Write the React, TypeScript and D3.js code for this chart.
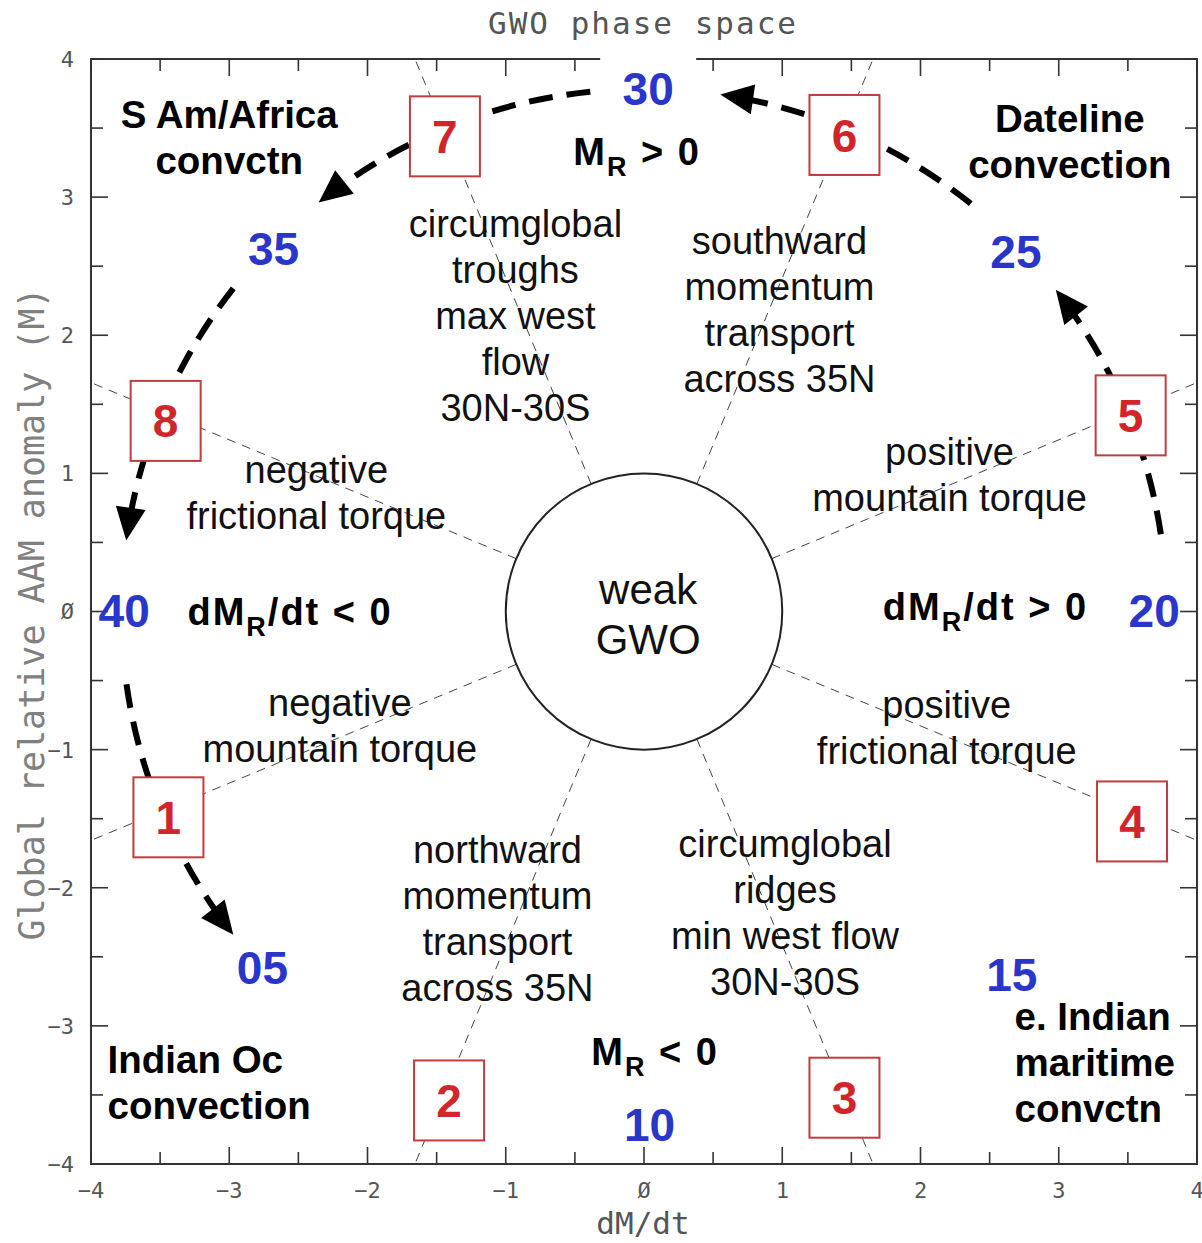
import React from 'react';
import * as d3 from 'd3';

// ---------- data ----------
const majorTicks = [-4, -3, -2, -1, 0, 1, 2, 3, 4];
const minorTicks = [-3.5, -2.5, -1.5, -0.5, 0.5, 1.5, 2.5, 3.5];
const tickText = (v: number) => (v === 0 ? 'Ø' : v < 0 ? '−' + Math.abs(v) : String(v));

const titleText = 'GWO phase space';
const xLabelText = 'dM/dt';
const yLabelText = 'Global relative AAM anomaly (M)';

const phaseNumbers = ['1', '2', '3', '4', '5', '6', '7', '8'];
const phaseX = [-3.44, -1.41, 1.45, 3.53, 3.52, 1.45, -1.44, -3.46];
const phaseY = [-1.49, -3.54, -3.52, -1.52, 1.42, 3.45, 3.44, 1.38];

const boundaryAngles = [22.5, 67.5, 112.5, 157.5, 202.5, 247.5, 292.5, 337.5];
const weakRadius = 1;

const dayLabels = ['20', '25', '30', '35', '40', '05', '10', '15'];
const dayX = [3.69, 2.69, 0.03, -2.68, -3.76, -2.76, 0.04, 2.66];
const dayY = [0.01, 2.61, 3.79, 2.63, 0.01, -2.58, -3.71, -2.63];

const arrowStart = [8.5, 51.3, 95.9, 141.8, 188];
const arrowEnd = [38, 81.6, 128.5, 172.2, 218.2];
const arrowRadius = 3.78;

const regionLines = [
  ['S Am/Africa', 'convctn'],
  ['Dateline', 'convection'],
  ['Indian Oc', 'convection'],
  ['e. Indian', 'maritime', 'convctn'],
];
const processLines = [
  ['circumglobal', 'troughs', 'max west', 'flow', '30N-30S'],
  ['southward', 'momentum', 'transport', 'across 35N'],
  ['negative', 'frictional torque'],
  ['positive', 'mountain torque'],
  ['negative', 'mountain torque'],
  ['positive', 'frictional torque'],
  ['northward', 'momentum', 'transport', 'across 35N'],
  ['circumglobal', 'ridges', 'min west flow', '30N-30S'],
];
const centerLines = ['weak', 'GWO'];

// ---------- layout (data units) ----------
const regionPos = [
  { x: -3.0, y: 3.5, anchor: 'middle' },
  { x: 3.08, y: 3.47, anchor: 'middle' },
  { x: -3.88, y: -3.34, anchor: 'start' },
  { x: 2.68, y: -3.03, anchor: 'start' },
];
const processPos = [
  { x: -0.93, y: 2.71 },
  { x: 0.98, y: 2.59 },
  { x: -2.37, y: 0.93 },
  { x: 2.21, y: 1.06 },
  { x: -2.2, y: -0.76 },
  { x: 2.19, y: -0.77 },
  { x: -1.06, y: -1.82 },
  { x: 1.02, y: -1.78 },
];

const W = 1202;
const H = 1243;
const LEFT = 91, RIGHT = 1197, TOP = 59, BOTTOM = 1164;

export default function App() {
  const x = d3.scaleLinear().domain([-4, 4]).range([LEFT, RIGHT]);
  const y = d3.scaleLinear().domain([-4, 4]).range([BOTTOM, TOP]);
  const cx = x(0), cy = y(0);
  const ux = x(1) - x(0);
  const uy = y(0) - y(1);
  const rad = (d: number) => (d * Math.PI) / 180;
  const polar = (r: number, a: number) => [x(r * Math.cos(rad(a))), y(r * Math.sin(rad(a)))];

  const font = 'Liberation Sans, Arial, sans-serif';
  const mono = 'DejaVu Sans Mono, monospace';
  const gray = '#555';

  // heavy arrows
  const R = arrowRadius * ux;
  const headL = 33, headW = 30;
  const arrows = arrowStart.map((a0, i) => {
    const a1 = arrowEnd[i];
    const a1line = a1 - (headL / R) * (180 / Math.PI) * 0.9;
    const p = d3.path();
    p.arc(cx, cy, R, -rad(a0), -rad(a1line), true);
    const t = rad(a1);
    const tip = [cx + R * Math.cos(t), cy - R * Math.sin(t)];
    const dir = [-Math.sin(t), -Math.cos(t)];
    const nrm = [Math.cos(t), -Math.sin(t)];
    const base = [tip[0] - headL * dir[0], tip[1] - headL * dir[1]];
    const b1 = [base[0] + (headW / 2) * nrm[0], base[1] + (headW / 2) * nrm[1]];
    const b2 = [base[0] - (headW / 2) * nrm[0], base[1] - (headW / 2) * nrm[1]];
    return { d: p.toString(), head: `M${tip[0]},${tip[1]}L${b1[0]},${b1[1]}L${b2[0]},${b2[1]}Z` };
  });

  const clipId = 'plotclip';
  const boldLabel = { fontFamily: font, fontWeight: 'bold' as const, fontSize: 38, fill: '#000', letterSpacing: 2 };

  return (
    <svg width={W} height={H} style={{ position: 'absolute', left: 0, top: 0, background: '#fff' }}>
      <defs>
        <clipPath id={clipId}>
          <rect x={LEFT} y={TOP} width={RIGHT - LEFT} height={BOTTOM - TOP} />
        </clipPath>
      </defs>
      <rect x={0} y={0} width={W} height={H} fill="#fff" />

      {/* title & axis labels */}
      <text x={643} y={34} textAnchor="middle" fontFamily={mono} fontSize={31} fill={gray} letterSpacing={2}>
        {titleText}
      </text>
      <text x={643} y={1234} textAnchor="middle" fontFamily={mono} fontSize={31} fill={gray}>
        {xLabelText}
      </text>
      <text
        transform={`translate(44,${614}) rotate(-90)`}
        textAnchor="middle"
        fontFamily={mono}
        fontSize={35}
        fill="#808080"
      >
        {yLabelText}
      </text>

      {/* frame */}
      <rect x={LEFT} y={TOP} width={RIGHT - LEFT} height={BOTTOM - TOP} fill="none" stroke="#333" strokeWidth={2} />
      {majorTicks.concat(minorTicks).map((v, i) => {
        const len = Number.isInteger(v) ? 17 : 12;
        return (
          <g key={'t' + i} stroke="#333" strokeWidth={1.6}>
            <line x1={x(v)} x2={x(v)} y1={BOTTOM} y2={BOTTOM - len} />
            <line x1={x(v)} x2={x(v)} y1={TOP} y2={TOP + len} />
            <line y1={y(v)} y2={y(v)} x1={LEFT} x2={LEFT + len} />
            <line y1={y(v)} y2={y(v)} x1={RIGHT} x2={RIGHT - len} />
          </g>
        );
      })}
      {majorTicks.map((v) => (
        <text key={'xl' + v} x={x(v)} y={1198} textAnchor="middle" fontFamily={mono} fontSize={22} fill={gray}>
          {tickText(v)}
        </text>
      ))}
      {majorTicks.map((v) => (
        <text key={'yl' + v} x={74} y={y(v)} dy="0.36em" textAnchor="end" fontFamily={mono} fontSize={22} fill={gray}>
          {tickText(v)}
        </text>
      ))}

      {/* radial boundary lines */}
      <g clipPath={`url(#${clipId})`}>
        {boundaryAngles.map((a) => {
          const [x1, y1] = polar(weakRadius, a);
          const [x2, y2] = polar(7, a);
          return (
            <line key={'b' + a} x1={x1} y1={y1} x2={x2} y2={y2} stroke="#444" strokeWidth={1} strokeDasharray="9,7" />
          );
        })}
      </g>

      {/* weak circle */}
      <ellipse cx={cx} cy={cy} rx={weakRadius * ux} ry={weakRadius * uy} fill="#fff" stroke="#222" strokeWidth={2} />
      <text x={x(0.03)} y={604} textAnchor="middle" fontFamily={font} fontSize={42} fill="#111">
        {centerLines.map((s, i) => (
          <tspan key={s} x={x(0.03)} dy={i === 0 ? 0 : 50}>
            {s}
          </tspan>
        ))}
      </text>

      {/* process labels */}
      {processLines.map((lines, i) => (
        <text
          key={'p' + i}
          x={x(processPos[i].x)}
          y={y(processPos[i].y)}
          textAnchor="middle"
          fontFamily={font}
          fontSize={38}
          fill="#111"
        >
          {lines.map((s, j) => (
            <tspan key={j} x={x(processPos[i].x)} dy={j === 0 ? 0 : 46}>
              {s}
            </tspan>
          ))}
        </text>
      ))}

      {/* region labels */}
      {regionLines.map((lines, i) => (
        <text
          key={'r' + i}
          x={x(regionPos[i].x)}
          y={y(regionPos[i].y)}
          textAnchor={regionPos[i].anchor as any}
          fontFamily={font}
          fontWeight="bold"
          fontSize={38.5}
          fill="#000"
        >
          {lines.map((s, j) => (
            <tspan key={j} x={x(regionPos[i].x)} dy={j === 0 ? 0 : 46}>
              {s}
            </tspan>
          ))}
        </text>
      ))}

      {/* MR and dMR/dt labels */}
      <text x={x(-0.05)} y={y(3.23)} textAnchor="middle" {...boldLabel}>
        M<tspan fontSize={27} dy={11}>R</tspan>
        <tspan dy={-11}> &gt; 0</tspan>
      </text>
      <text x={x(0.08)} y={y(-3.28)} textAnchor="middle" {...boldLabel}>
        M<tspan fontSize={27} dy={11}>R</tspan>
        <tspan dy={-11}> &lt; 0</tspan>
      </text>
      <text x={x(-2.56)} y={y(-0.1)} textAnchor="middle" {...boldLabel}>
        dM<tspan fontSize={27} dy={11}>R</tspan>
        <tspan dy={-11}>/dt &lt; 0</tspan>
      </text>
      <text x={x(2.47)} y={y(-0.06)} textAnchor="middle" {...boldLabel}>
        dM<tspan fontSize={27} dy={11}>R</tspan>
        <tspan dy={-11}>/dt &gt; 0</tspan>
      </text>

      {/* heavy dashed arrows */}
      {arrows.map((a, i) => (
        <g key={'a' + i}>
          <path d={a.d} fill="none" stroke="#000" strokeWidth={6} strokeDasharray="24,14" />
          <path d={a.head} fill="#000" />
        </g>
      ))}

      {/* day labels */}
      <rect x={x(dayX[2]) - 48} y={50} width={96} height={68} fill="#fff" />
      {dayLabels.map((s, i) => (
        <text
          key={'d' + i}
          x={x(dayX[i])}
          y={y(dayY[i])}
          dy="0.36em"
          textAnchor="middle"
          fontFamily={font}
          fontWeight="bold"
          fontSize={46}
          fill="#2a36c9"
        >
          {s}
        </text>
      ))}

      {/* phase boxes */}
      {phaseNumbers.map((s, i) => {
        const bx = x(phaseX[i]);
        const by = y(phaseY[i]);
        return (
          <g key={'ph' + s}>
            <rect x={bx - 35} y={by - 40} width={70} height={80} fill="#fff" stroke="#c23b3e" strokeWidth={2} />
            <text x={bx} y={by} dy="0.36em" textAnchor="middle" fontFamily={font} fontWeight="bold" fontSize={46} fill="#d0262b">
              {s}
            </text>
          </g>
        );
      })}
    </svg>
  );
}
